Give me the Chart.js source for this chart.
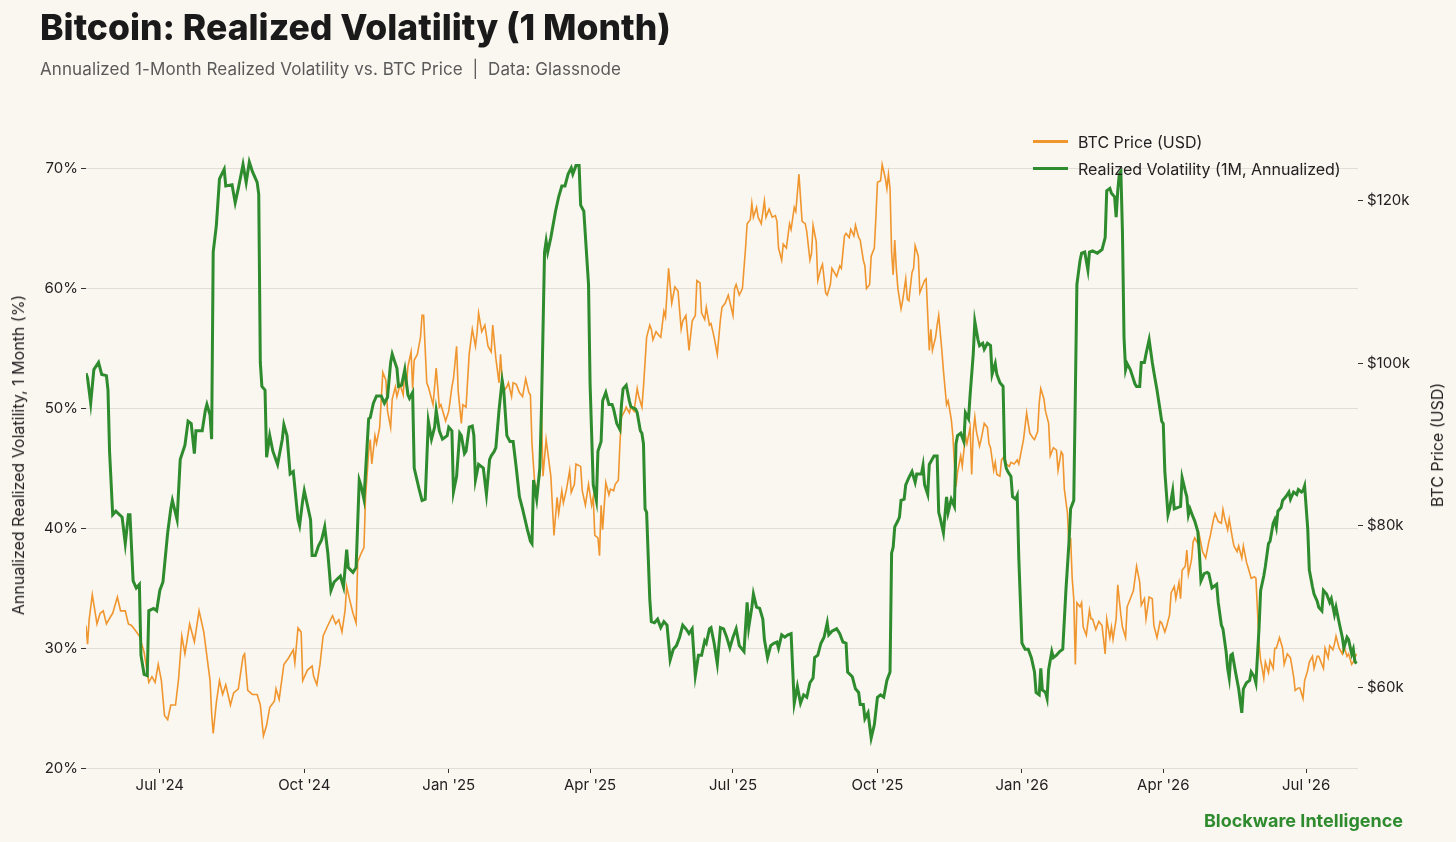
<!DOCTYPE html>
<html>
<head>
<meta charset="utf-8">
<script src="https://cdn.jsdelivr.net/npm/chart.js@4.4.1/dist/chart.umd.min.js"></script>
<style>
  html, body { margin: 0; padding: 0; background: #faf6f0; }
  body { width: 1456px; height: 842px; position: relative; overflow: hidden; font-family: Inter, "Noto Sans", sans-serif; }
  #title { position: absolute; left: 40px; top: 6px; font-size: 35.5px; font-weight: 800; color: #1a1a1a; white-space: nowrap; }
  #subtitle { position: absolute; left: 40px; top: 59px; font-size: 17px; letter-spacing: 0.1px; color: #5a5a5a; white-space: nowrap; }
  #legend { position: absolute; left: 1033px; top: 128px; font-size: 16px; color: #222; }
  .row { display: flex; align-items: center; height: 27px; white-space: nowrap; }
  .swatch { width: 35px; height: 3px; margin-right: 10px; }
  .axtitle { position: absolute; font-size: 16px; color: #222; white-space: nowrap; transform: translate(-50%, -50%) rotate(-90deg); }
  #footer { position: absolute; right: 53px; top: 810px; font-size: 18px; font-weight: 700; color: #2e8b2e; }
  #wrap { position: absolute; left: 0; top: 0; width: 1456px; height: 842px; }
</style>
</head>
<body>
<div id="wrap"><canvas id="chart"></canvas></div>
<div id="title">Bitcoin: Realized Volatility (1 Month)</div>
<div id="subtitle">Annualized 1-Month Realized Volatility vs. BTC Price &nbsp;|&nbsp; Data: Glassnode</div>
<div id="legend">
  <div class="row"><div class="swatch" style="background:#f0962f"></div>BTC Price (USD)</div>
  <div class="row"><div class="swatch" style="background:#2e8b2e"></div>Realized Volatility (1M, Annualized)</div>
</div>
<div class="axtitle" style="left:18px; top:455px">Annualized Realized Volatility, 1 Month (%)</div>
<div class="axtitle" style="left:1437px; top:445px">BTC Price (USD)</div>
<div id="footer">Blockware Intelligence</div>
<script>
// x values are days since 2024-07-01
var xTickDays = [0, 92, 184, 274, 365, 457, 549, 639, 730]
var xTickLabels = ["Jul '24", "Oct '24", "Jan '25", "Apr '25", "Jul '25", "Oct '25", "Jan '26", "Apr '26", "Jul '26"]
var volTicks = [20, 30, 40, 50, 60, 70]
var priceTicks = [60000, 80000, 100000, 120000]

// realized volatility, % (day, value)
var volSeries = [
  [-47,52.9],[-46,52.5],[-44,50.4],[-42,53.2],[-39,53.8],[-37,52.8],[-34,52.7],[-33,51.5],[-32,46.4],[-30,41.1],
  [-28,41.4],[-24,40.9],[-22,38.7],[-20,41.1],[-19,41.1],[-17,35.6],[-15,35.0],[-13,35.3],[-12,29.4],[-10,27.8],
  [-8,27.7],[-7,33.1],[-4,33.3],[-2,33.1],[0,34.8],[2,35.5],[5,39.6],[7,41.6],[8,42.3],[11,40.7],
  [13,45.7],[16,46.9],[18,48.9],[20,48.7],[22,46.2],[23,48.1],[27,48.1],[29,49.8],[30,50.3],[32,49.4],
  [33,47.4],[34,63.0],[36,65.2],[38,69.1],[41,69.9],[42,68.5],[46,68.6],[48,67.1],[50,68.3],[53,70.3],
  [55,68.8],[57,70.5],[59,69.7],[62,68.8],[63,67.8],[64,53.8],[65,51.8],[67,51.5],[68,45.9],[70,47.7],
  [72,46.4],[75,45.3],[78,47.4],[79,48.6],[81,47.7],[83,44.5],[85,44.7],[88,40.7],[89,40.2],[91,42.3],
  [92,43.1],[96,40.7],[97,37.7],[99,37.7],[101,38.5],[103,39.0],[105,40.1],[107,37.9],[109,34.8],[111,35.5],
  [115,36.0],[117,35.1],[119,38.2],[120,36.7],[123,36.3],[125,36.7],[127,44.0],[128,43.6],[130,42.4],[133,49.1],
  [134,49.2],[136,50.4],[138,51.0],[141,51.0],[143,50.4],[145,50.9],[147,53.8],[148,54.5],[150,53.7],[151,53.3],
  [152,51.8],[154,51.9],[156,53.2],[158,51.1],[159,50.8],[161,51.3],[162,45.0],[165,43.3],[167,42.3],[169,42.4],
  [171,48.9],[173,47.4],[175,48.4],[176,49.8],[178,48.1],[180,47.4],[183,47.7],[184,48.4],[186,48.1],[187,43.0],
  [189,44.3],[191,47.9],[192,47.7],[194,46.2],[195,46.4],[197,48.4],[199,48.5],[200,47.7],[201,44.0],[203,45.3],
  [206,45.0],[208,42.8],[210,45.7],[211,46.0],[213,46.4],[214,46.7],[216,49.8],[218,52.3],[219,51.5],[221,47.7],
  [223,47.2],[225,47.2],[227,45.0],[229,42.6],[231,41.6],[234,39.9],[236,38.9],[237,38.7],[238,44.0],[240,42.4],
  [242,45.0],[243,49.8],[245,63.0],[246,63.9],[247,63.0],[249,64.2],[252,66.4],[254,67.6],[256,68.5],[258,68.5],
  [260,69.5],[262,70.0],[263,69.5],[265,70.2],[267,70.2],[268,66.9],[270,66.4],[273,60.3],[274,52.0],[276,43.6],
  [278,42.3],[279,46.4],[281,47.2],[282,50.6],[284,51.3],[286,50.3],[288,50.3],[289,49.9],[291,48.7],[293,48.2],
  [294,50.3],[295,51.6],[297,51.9],[299,50.6],[300,50.1],[303,49.9],[304,49.6],[306,48.1],[307,47.9],[308,47.0],
  [309,41.6],[310,41.3],[312,34.1],[313,32.2],[315,32.1],[317,32.4],[319,31.7],[321,32.2],[323,31.9],[325,29.0],
  [327,29.9],[329,30.2],[331,30.9],[333,31.9],[335,31.6],[337,31.2],[339,31.6],[341,27.7],[343,29.4],[345,29.4],
  [347,30.6],[348,30.4],[350,31.6],[351,31.7],[353,30.4],[355,28.7],[357,31.7],[359,31.6],[361,30.9],[363,30.0],
  [365,30.9],[367,31.6],[369,30.2],[372,29.7],[374,33.8],[375,31.7],[377,33.4],[378,34.5],[380,33.4],[382,33.3],
  [384,32.4],[385,30.7],[387,29.2],[389,30.2],[391,30.4],[393,30.5],[394,30.0],[396,31.1],[398,30.9],[400,31.1],
  [402,31.2],[404,25.4],[406,26.8],[408,25.4],[410,26.1],[412,25.9],[414,27.1],[416,27.5],[417,29.2],[419,29.4],
  [421,30.4],[423,30.9],[425,32.1],[426,31.1],[428,31.4],[431,31.6],[433,31.2],[435,30.5],[437,30.4],[438,28.0],
  [441,27.6],[443,26.6],[445,26.3],[446,25.3],[448,25.3],[449,24.1],[451,24.6],[453,22.5],[455,23.6],[457,25.9],
  [459,26.1],[461,25.9],[463,27.3],[465,28.0],[466,37.9],[467,38.4],[468,40.1],[470,40.6],[471,40.9],[472,42.3],
  [474,42.4],[475,43.6],[477,44.2],[479,44.7],[481,43.8],[482,44.5],[485,44.5],[486,45.2],[487,43.6],[489,42.8],
  [490,45.3],[493,46.0],[495,46.0],[496,41.3],[497,40.8],[499,39.6],[501,42.6],[502,41.3],[504,42.4],[506,41.8],
  [507,47.0],[508,47.7],[510,47.9],[512,47.2],[513,49.6],[515,49.1],[516,51.1],[518,54.5],[519,57.2],[521,55.7],
  [522,55.2],[524,55.4],[525,54.9],[527,55.4],[529,55.2],[530,52.8],[532,53.7],[533,52.8],[535,52.1],[537,51.8],
  [538,45.7],[539,45.0],[540,44.7],[542,44.3],[543,42.6],[545,42.4],[546,42.7],[547,37.5],[549,30.4],[551,29.9],
  [553,29.9],[555,29.2],[557,28.0],[558,26.3],[560,26.1],[561,28.3],[562,26.5],[564,26.3],[565,25.8],[566,28.2],
  [568,29.7],[569,29.2],[571,29.4],[573,29.7],[575,29.9],[577,34.8],[579,38.9],[580,41.6],[582,42.3],[583,51.1],
  [584,60.3],[586,62.3],[587,62.9],[589,63.0],[591,61.5],[592,63.0],[594,63.1],[597,62.9],[599,63.1],[600,63.2],
  [602,64.2],[603,68.1],[605,68.3],[606,67.9],[608,67.6],[609,65.9],[610,68.1],[611,69.5],[612,69.7],[613,64.7],
  [614,55.9],[615,53.2],[616,53.7],[618,53.2],[619,52.8],[621,52.0],[622,51.8],[624,51.8],[625,53.8],[627,53.8],
  [628,54.5],[630,55.7],[632,53.8],[633,53.0],[635,51.5],[637,49.8],[638,48.9],[639,48.7],[640,44.7],[642,41.1],
  [643,41.6],[645,43.1],[646,41.6],[648,41.7],[650,41.8],[651,44.2],[653,43.1],[654,42.6],[655,41.1],[656,41.6],
  [658,40.9],[659,40.6],[661,39.7],[662,37.9],[663,35.6],[665,36.2],[667,36.3],[668,36.2],[670,35.0],[671,35.1],
  [673,35.3],[674,33.8],[676,31.9],[677,31.6],[679,29.7],[680,28.3],[681,27.5],[682,29.4],[683,29.5],[685,28.0],
  [686,27.3],[687,26.6],[689,24.6],[690,26.6],[692,27.1],[694,27.3],[695,28.0],[697,27.6],[698,27.1],[700,31.7],
  [701,34.8],[703,36.0],[704,36.8],[706,38.7],[707,38.9],[709,40.4],[710,40.7],[711,40.1],[712,41.4],[714,41.7],
  [715,42.3],[717,42.6],[719,43.0],[720,42.4],[722,43.0],[724,42.8],[725,43.2],[727,43.0],[728,43.1],[729,43.5],
  [731,39.9],[732,36.5],[734,35.1],[735,34.5],[737,33.9],[738,33.4],[740,33.1],[741,34.8],[743,34.5],[745,33.8],
  [746,34.1],[748,32.8],[749,33.4],[751,32.1],[753,30.9],[754,30.0],[756,30.9],[757,30.7],[759,29.5],[760,29.9],
  [761,28.9],[762,28.7]
]

// BTC price, thousands of USD (day, value)
var priceSeries = [
  [-47,67.7],[-46,65.4],[-45,68.4],[-43,71.5],[-40,67.9],[-38,69.2],[-36,69.5],[-34,67.9],[-31,68.9],[-30,69.2],
  [-27,71.2],[-25,69.5],[-22,69.5],[-20,67.9],[-18,67.7],[-16,67.2],[-13,66.4],[-10,64.4],[-7,60.7],[-5,61.4],
  [-3,60.7],[-1,62.9],[1,60.9],[3,56.6],[5,56.1],[7,57.9],[10,57.9],[12,61.2],[14,66.4],[16,64.2],
  [19,67.9],[22,65.7],[25,69.5],[28,66.9],[30,63.9],[32,60.9],[33,56.9],[34,54.4],[36,58.2],[38,60.9],
  [40,59.2],[42,60.4],[45,57.9],[47,59.4],[50,59.9],[53,63.9],[54,64.2],[56,59.7],[59,59.2],[62,59.2],
  [64,57.9],[66,54.1],[68,55.4],[70,57.6],[73,58.4],[74,59.9],[76,58.6],[79,62.9],[82,63.7],[85,64.7],
  [86,63.1],[88,67.4],[90,66.9],[91,60.9],[94,62.2],[97,62.7],[98,61.4],[100,60.4],[102,62.9],[104,66.4],
  [107,67.7],[110,68.9],[112,67.9],[114,68.4],[116,66.9],[118,69.6],[119,72.5],[121,70.8],[123,69.2],[125,68.0],
  [126,75.5],[128,76.5],[130,77.3],[131,83.5],[133,89.1],[134,90.6],[135,87.6],[137,91.1],[138,90.1],[140,92.1],
  [142,98.9],[144,97.9],[145,94.1],[147,92.1],[148,95.6],[150,97.1],[151,95.9],[153,97.4],[155,96.1],[156,99.4],
  [157,97.1],[158,99.6],[160,101.4],[161,96.9],[162,100.4],[164,101.1],[166,103.2],[167,105.9],[168,105.9],[170,97.6],
  [171,97.1],[174,94.9],[176,99.4],[178,94.6],[179,94.9],[182,92.9],[184,94.1],[186,97.1],[187,98.1],[189,102.1],
  [190,96.6],[192,92.6],[193,94.9],[195,94.6],[197,101.1],[199,104.2],[201,102.1],[202,103.7],[203,106.2],[205,103.9],
  [207,104.7],[209,102.1],[211,101.4],[212,104.7],[214,100.6],[216,97.6],[217,101.1],[218,98.1],[219,96.6],[221,97.1],
  [222,97.6],[224,95.9],[225,97.6],[227,97.4],[229,96.4],[231,95.9],[233,98.1],[235,96.4],[236,96.1],[237,90.1],
  [239,84.5],[240,84.8],[242,86.1],[243,94.1],[244,86.1],[246,90.6],[247,89.1],[249,86.1],[251,78.8],[253,83.5],
  [254,81.5],[256,84.3],[257,82.8],[259,84.5],[261,86.8],[262,84.1],[264,85.1],[265,87.6],[268,87.3],[269,84.3],
  [271,82.5],[273,85.1],[275,82.5],[276,83.5],[277,78.8],[279,78.5],[280,76.3],[281,82.5],[282,79.5],[284,85.3],
  [286,83.8],[287,84.5],[289,84.3],[290,85.1],[292,85.6],[293,90.1],[294,93.4],[296,94.1],[297,94.6],[299,93.9],
  [300,94.6],[302,94.1],[304,96.9],[305,95.9],[307,94.6],[308,97.1],[310,103.2],[312,104.7],[313,104.2],[314,102.9],
  [316,103.9],[318,103.4],[319,103.2],[321,106.4],[322,105.7],[324,111.7],[326,107.4],[328,109.4],[330,108.9],[332,104.2],
  [333,105.2],[335,105.9],[337,101.6],[339,105.2],[341,105.9],[342,110.2],[344,109.9],[345,106.2],[347,105.4],[348,106.9],
  [350,104.7],[351,104.9],[353,103.2],[355,101.1],[357,105.4],[358,106.9],[360,107.4],[362,108.4],[365,105.9],[366,109.2],
  [367,109.7],[369,108.4],[371,109.2],[373,114.2],[374,117.2],[376,117.7],[377,119.7],[378,118.0],[380,119.2],[381,118.0],
  [383,117.2],[385,120.0],[386,118.0],[388,119.0],[390,118.0],[392,118.2],[393,117.5],[394,114.2],[396,112.7],[397,114.7],
  [399,114.2],[401,117.2],[402,116.5],[404,119.2],[405,118.7],[407,123.3],[409,117.5],[411,117.2],[412,116.2],[414,112.7],
  [415,113.5],[416,117.0],[418,115.0],[419,110.2],[421,111.7],[422,112.2],[424,108.7],[425,108.4],[427,109.7],[428,111.7],
  [431,110.7],[433,112.0],[434,111.7],[436,115.7],[437,116.0],[439,115.5],[440,116.5],[442,115.7],[443,117.0],[445,115.5],
  [446,115.2],[448,112.7],[449,112.0],[450,109.2],[452,109.7],[453,113.2],[455,114.2],[456,118.0],[457,122.3],[459,122.5],
  [460,124.5],[462,122.8],[463,121.5],[464,123.3],[465,121.5],[466,113.7],[467,110.9],[468,115.2],[469,111.7],[470,109.2],
  [472,106.7],[473,107.7],[475,110.4],[476,107.9],[477,107.7],[479,111.2],[480,111.7],[481,114.5],[483,113.2],[484,108.7],
  [486,109.7],[487,110.2],[488,110.4],[490,101.6],[491,104.2],[492,101.6],[494,103.2],[495,104.7],[496,105.9],[498,101.6],
  [499,99.1],[501,94.9],[502,95.4],[504,93.1],[505,91.1],[506,87.6],[507,84.8],[508,86.6],[510,88.6],[511,87.3],
  [513,91.1],[514,90.1],[516,92.1],[517,86.3],[518,91.6],[519,93.4],[520,91.6],[522,89.8],[523,90.6],[525,92.6],
  [527,92.1],[528,90.1],[529,89.6],[531,86.8],[532,87.8],[533,86.3],[535,86.1],[536,88.1],[538,88.6],[539,87.6],
  [541,87.3],[542,87.8],[544,87.6],[546,88.1],[547,87.6],[549,89.6],[550,90.6],[552,93.9],[553,92.6],[554,91.4],
  [556,90.8],[557,90.6],[559,91.6],[560,95.1],[561,96.9],[563,95.6],[564,94.1],[566,92.6],[567,88.6],[569,89.6],
  [571,89.3],[572,86.8],[574,89.1],[575,88.8],[576,84.5],[578,81.5],[579,77.0],[580,78.5],[581,73.5],[582,71.0],
  [583,62.9],[584,70.5],[586,70.0],[587,70.5],[588,67.5],[590,66.5],[592,69.6],[593,68.5],[594,68.5],[596,67.2],
  [598,68.2],[600,67.7],[602,64.2],[603,68.5],[605,66.2],[606,67.5],[607,66.0],[609,68.5],[610,72.7],[612,69.0],
  [613,67.5],[615,66.2],[616,70.0],[618,71.0],[620,72.0],[622,75.0],[624,73.0],[625,70.2],[627,71.0],[628,68.5],
  [630,71.2],[632,71.0],[633,67.7],[635,66.2],[637,68.2],[638,68.0],[640,66.9],[641,67.5],[643,69.0],[644,71.7],
  [646,72.5],[647,71.0],[649,73.0],[650,71.0],[651,74.5],[653,75.0],[654,77.0],[655,74.0],[657,75.8],[658,78.0],
  [659,78.5],[661,77.8],[662,78.8],[664,76.8],[666,76.0],[668,78.0],[669,78.8],[671,80.8],[672,81.5],[674,80.5],
  [676,80.3],[677,82.0],[678,81.0],[680,79.5],[681,80.8],[683,78.5],[684,77.5],[686,76.8],[687,77.5],[689,76.0],
  [690,77.5],[692,75.5],[694,74.2],[695,73.5],[697,73.7],[698,73.5],[699,69.5],[700,65.4],[701,63.4],[702,62.4],
  [703,61.2],[704,63.2],[706,61.9],[707,63.4],[709,62.4],[710,64.9],[711,64.9],[713,66.2],[715,64.9],[716,62.9],
  [718,64.2],[720,63.7],[722,61.4],[723,59.7],[725,60.0],[726,60.0],[728,58.7],[729,60.9],[731,62.2],[732,63.2],
  [734,63.9],[735,62.4],[737,63.9],[738,63.9],[741,62.4],[742,64.9],[744,63.7],[745,65.2],[747,64.7],[748,65.4],
  [749,66.4],[751,64.9],[753,64.2],[754,65.2],[756,63.9],[757,64.2],[759,62.9],[760,63.2],[761,63.7],[762,64.2]
]

Chart.defaults.font.family = 'Inter, "Noto Sans", sans-serif'
Chart.defaults.font.size = 15
Chart.defaults.color = '#222'

var ctx = document.getElementById('chart').getContext('2d')
var chart = new Chart(ctx, {
    type: 'line',
    data: {
        datasets: [{
            label: 'Realized Volatility (1M, Annualized)',
            data: volSeries.map(function(p){ return {x: p[0], y: p[1]} }),
            borderColor: '#2e8b2e',
            borderWidth: 3,
            yAxisID: 'y',
            order: 0
        }, {
            label: 'BTC Price (USD)',
            data: priceSeries.map(function(p){ return {x: p[0], y: p[1] * 1000} }),
            borderColor: '#f0962f',
            borderWidth: 1.6,
            yAxisID: 'y1',
            order: 1
        }]
    },
    options: {
        responsive: true,
        maintainAspectRatio: false,
        animation: false,
        layout: { padding: { top: 150 } },
        elements: { point: { radius: 0 }, line: { tension: 0 } },
        plugins: { legend: { display: false }, tooltip: { enabled: false } },
        scales: {
            x: {
                type: 'linear',
                min: -47,
                max: 763,
                border: { display: false },
                grid: { drawOnChartArea: false, tickLength: 5, tickColor: '#333' },
                afterBuildTicks: function(s){ s.ticks = xTickDays.map(function(v){ return {value: v} }) },
                afterFit: function(s){ s.height = 74 },
                ticks: {
                    autoSkip: false,
                    maxRotation: 0,
                    padding: 3,
                    callback: function(v, i){ return xTickLabels[i] }
                }
            },
            y: {
                position: 'left',
                min: 20,
                max: 71.5,
                border: { display: false },
                grid: { color: '#e2ded7', tickLength: 5, tickColor: '#333' },
                afterBuildTicks: function(s){ s.ticks = volTicks.map(function(v){ return {value: v} }) },
                afterFit: function(s){ s.width = 86 },
                ticks: { padding: 3, callback: function(v){ return v + '%' } }
            },
            y1: {
                position: 'right',
                min: 50140,
                max: 126280,
                border: { display: false },
                grid: { drawOnChartArea: false, tickLength: 5, tickColor: '#333' },
                afterBuildTicks: function(s){ s.ticks = priceTicks.map(function(v){ return {value: v} }) },
                afterFit: function(s){ s.width = 98 },
                ticks: { padding: 4, callback: function(v){ return '$' + (v / 1000) + 'k' } }
            }
        }
    }
})
</script>
</body>
</html>
